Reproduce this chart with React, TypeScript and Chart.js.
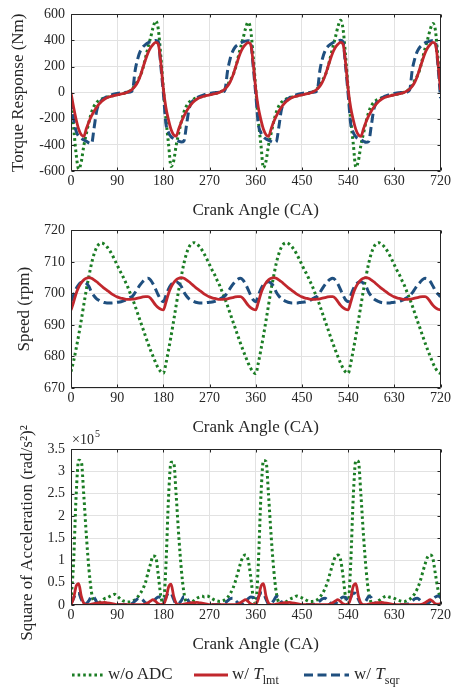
import React, { useEffect, useRef } from 'react';
import { Chart, registerables } from 'chart.js';
Chart.register(...registerables);

const FONT = '"Liberation Serif", "Times New Roman", Times, serif';
const INK = '#262626';
const GRID = '#e2e2e2';
const GREEN = '#1b7d24';
const RED = '#c1272d';
const BLUE = '#1f4f7f';

// crank angle sampling (every 5 CA from 0 to 720)
const angles: number[] = Array.from({ length: 145 }, (_, i) => i * 5);
const xTicks = [0, 90, 180, 270, 360, 450, 540, 630, 720];
const torqueTicks = [-600, -400, -200, 0, 200, 400, 600];
const speedTicks = [670, 680, 690, 700, 710, 720];
const accelTicks = [0, 0.5, 1, 1.5, 2, 2.5, 3, 3.5];

const legendLabels = ['w/o ADC', 'w/ T_lmt', 'w/ T_sqr'];

// Torque response (Nm)
const torqueNoADC = [
  -50, -260, -470, -585, -530, -405, -312, -224, -150, -102, -74, -58, -47, -40, -34, -29, -24, -20, -16, -12, -7, -2, 5, 15, 32, 60, 95, 130, 185, 265, 345, 420, 500, 550, 490, 280, 30,
  -200, -390, -565, -525, -402, -310, -222, -150, -102, -74, -58, -47, -40, -34, -29, -24, -20, -16, -12, -7, -2, 5, 15, 32, 60, 95, 130, 182, 260, 340, 412, 490, 540, 485, 278, 30,
  -210, -395, -575, -525, -400, -310, -222, -150, -102, -74, -58, -47, -40, -34, -29, -24, -20, -16, -12, -7, -2, 5, 15, 32, 60, 95, 130, 186, 266, 346, 422, 503, 555, 492, 282, 32,
  -205, -390, -570, -522, -400, -310, -222, -150, -102, -74, -58, -47, -40, -34, -29, -24, -20, -16, -12, -7, -2, 5, 15, 32, 60, 95, 130, 183, 262, 340, 410, 485, 530, 480, 270, 30,
];
const torqueLmt = [
  0, -110, -205, -280, -322, -334, -275, -222, -178, -142, -112, -86, -65, -50, -39, -31, -26, -21, -17, -13, -8, -3, 4, 14, 28, 50, 82, 128, 190, 250, 305, 345, 370, 385, 372, 230, 30,
  -115, -208, -282, -323, -333, -276, -224, -180, -143, -112, -86, -66, -50, -39, -32, -26, -21, -17, -13, -8, -3, 4, 14, 28, 50, 82, 127, 188, 248, 304, 344, 369, 384, 372, 228, 28,
  -113, -206, -280, -322, -335, -277, -223, -179, -142, -111, -85, -65, -50, -39, -31, -26, -21, -17, -13, -8, -3, 4, 14, 28, 50, 83, 129, 190, 251, 306, 346, 371, 386, 373, 231, 30,
  -114, -207, -281, -323, -334, -276, -222, -178, -142, -112, -86, -65, -50, -39, -31, -26, -21, -17, -13, -8, -3, 4, 14, 28, 50, 82, 128, 189, 249, 305, 345, 370, 385, 372, 230, 20,
];
const torqueSqr = [
  -60, -200, -295, -335, -350, -362, -372, -385, -390, -270, -140, -82, -56, -40, -30, -22, -15, -9, -5, -2, 0, 2, 3, 5, 20, 170, 260, 318, 350, 368, 382, 390, 396, 400, 392, 205, -5,
  -238, -305, -338, -352, -362, -372, -378, -370, -250, -125, -76, -54, -40, -30, -22, -15, -9, -5, -2, 0, 2, 3, 5, 20, 165, 258, 316, 350, 367, 380, 389, 395, 398, 390, 200, -10,
  -240, -306, -340, -354, -364, -374, -382, -376, -262, -130, -78, -55, -40, -30, -22, -15, -9, -5, -2, 0, 2, 3, 5, 20, 172, 262, 320, 352, 369, 383, 391, 397, 401, 391, 202, -8,
  -239, -305, -338, -352, -362, -372, -380, -374, -258, -128, -77, -55, -40, -30, -22, -15, -9, -5, -2, 0, 2, 3, 5, 22, 175, 262, 318, 350, 368, 382, 390, 396, 400, 392, 210, -42,
];

// Speed (rpm)
const speedNoADC = [
  675.2, 678.5, 682.5, 686.8, 691.5, 696.5, 701.3, 705.5, 709.5, 712.5, 714.6, 715.7, 716, 715.6, 714.8, 713.7, 712.3, 710.7, 709, 707.3, 705.8, 704, 702.3, 700.2, 698.2, 696, 693.6, 691.2, 688.9, 686.5, 684.2, 682, 680, 678, 676.3, 675.2, 674.7,
  677.8, 682, 686.5, 691.3, 696.3, 701.2, 705.5, 709.5, 712.6, 714.7, 715.8, 716.1, 715.7, 714.9, 713.8, 712.4, 710.8, 709.1, 707.4, 705.9, 704.1, 702.4, 700.3, 698.3, 696.1, 693.7, 691.3, 689, 686.6, 684.3, 682.1, 680, 678, 676.3, 675.1, 674.6,
  677.9, 682.1, 686.6, 691.4, 696.4, 701.3, 705.6, 709.6, 712.6, 714.7, 715.8, 716.1, 715.7, 714.9, 713.8, 712.4, 710.8, 709.1, 707.4, 705.9, 704.1, 702.4, 700.3, 698.3, 696.1, 693.7, 691.3, 689, 686.6, 684.3, 682.1, 680, 678, 676.3, 675.1, 674.7,
  677.8, 682, 686.5, 691.3, 696.3, 701.2, 705.5, 709.5, 712.6, 714.7, 715.8, 716.1, 715.7, 714.9, 713.8, 712.4, 710.8, 709.1, 707.4, 705.9, 704.1, 702.4, 700.3, 698.3, 696.1, 693.7, 691.3, 689, 686.6, 684.3, 682.1, 680, 678, 676.3, 675.1, 674.6,
];
const speedLmt = [
  694.7, 697.2, 700, 702, 703.4, 704.3, 704.8, 705, 704.8, 704.3, 703.7, 703, 702.3, 701.6, 701, 700.4, 699.8, 699.3, 698.9, 698.6, 698.4, 698.2, 698.1, 698.1, 698.2, 698.3, 698.5, 698.7, 698.9, 699, 699, 698.5, 697.4, 696.3, 695.5, 695, 694.8,
  697.2, 700, 702, 703.4, 704.3, 704.8, 705, 704.8, 704.3, 703.7, 703, 702.3, 701.6, 701, 700.4, 699.8, 699.3, 698.9, 698.6, 698.4, 698.2, 698.1, 698.1, 698.2, 698.3, 698.5, 698.7, 698.9, 699, 699, 698.5, 697.4, 696.3, 695.5, 695, 694.8,
  697.2, 700, 702, 703.4, 704.3, 704.8, 705, 704.8, 704.3, 703.7, 703, 702.3, 701.6, 701, 700.4, 699.8, 699.3, 698.9, 698.6, 698.4, 698.2, 698.1, 698.1, 698.2, 698.3, 698.5, 698.7, 698.9, 699, 699, 698.5, 697.4, 696.3, 695.5, 695, 694.8,
  697.2, 700, 702, 703.4, 704.3, 704.8, 705, 704.8, 704.3, 703.7, 703, 702.3, 701.6, 701, 700.4, 699.8, 699.3, 698.9, 698.6, 698.4, 698.2, 698.1, 698.1, 698.2, 698.3, 698.5, 698.7, 698.9, 699, 699, 698.5, 697.4, 696.3, 695.5, 695, 694.8,
];
const speedSqr = [
  697.5, 699.5, 701.5, 702.8, 703.5, 703.7, 703.2, 702.2, 700.4, 699.2, 698.3, 697.8, 697.4, 697.1, 697, 697, 697, 697.1, 697.2, 697.3, 697.5, 697.8, 698.2, 698.7, 699.2, 700.3, 701.6, 702.8, 703.8, 704.5, 704.8, 704.3, 703, 701.3, 699.5, 698, 697.4,
  699.3, 701.4, 702.8, 703.5, 703.7, 703.2, 702.2, 700.4, 699.2, 698.3, 697.8, 697.4, 697.1, 697, 697, 697, 697.1, 697.2, 697.3, 697.5, 697.8, 698.2, 698.7, 699.2, 700.3, 701.6, 702.8, 703.8, 704.5, 704.8, 704.3, 703, 701.3, 699.5, 698, 697.4,
  699.3, 701.4, 702.8, 703.5, 703.7, 703.2, 702.2, 700.4, 699.2, 698.3, 697.8, 697.4, 697.1, 697, 697, 697, 697.1, 697.2, 697.3, 697.5, 697.8, 698.2, 698.7, 699.2, 700.3, 701.6, 702.8, 703.8, 704.5, 704.8, 704.3, 703, 701.3, 699.5, 698, 697.4,
  699.3, 701.4, 702.8, 703.5, 703.7, 703.2, 702.2, 700.4, 699.2, 698.3, 697.8, 697.4, 697.1, 697, 697, 697, 697.1, 697.2, 697.3, 697.5, 697.8, 698.2, 698.7, 699.2, 700.2, 701.4, 702.6, 703.5, 704.4, 704.8, 704.6, 703.8, 702.4, 700.9, 699.8, 699,
];

// Square of acceleration (x 10^5 (rad/s^2)^2)
const accelNoADC = [
  0.1, 0.95, 2.45, 3.25, 3.22, 2.45, 1.55, 0.8, 0.28, 0.06, 0.02, 0.05, 0.09, 0.14, 0.16, 0.19, 0.22, 0.24, 0.2, 0.15, 0.1, 0.08, 0.07, 0.07, 0.09, 0.12, 0.18, 0.26, 0.36, 0.5, 0.72, 0.92, 1.1, 1.08, 0.68, 0.2, 0.04,
  0.9, 2.4, 3.2, 3.2, 2.45, 1.55, 0.8, 0.28, 0.06, 0.03, 0.06, 0.1, 0.15, 0.18, 0.2, 0.18, 0.2, 0.18, 0.14, 0.11, 0.09, 0.08, 0.09, 0.12, 0.17, 0.25, 0.36, 0.52, 0.72, 0.92, 1.08, 1.12, 1.02, 0.65, 0.18, 0.04,
  0.92, 2.42, 3.24, 3.22, 2.45, 1.55, 0.8, 0.28, 0.06, 0.03, 0.05, 0.08, 0.12, 0.15, 0.17, 0.2, 0.18, 0.16, 0.13, 0.1, 0.08, 0.08, 0.09, 0.12, 0.18, 0.26, 0.37, 0.52, 0.72, 0.92, 1.08, 1.12, 1.03, 0.66, 0.18, 0.04,
  0.92, 2.42, 3.24, 3.22, 2.45, 1.55, 0.8, 0.28, 0.06, 0.03, 0.06, 0.1, 0.14, 0.18, 0.2, 0.18, 0.17, 0.15, 0.12, 0.1, 0.08, 0.08, 0.1, 0.13, 0.18, 0.26, 0.37, 0.52, 0.72, 0.92, 1.08, 1.12, 1.05, 0.7, 0.35, 0.15,
];
const accelLmt = [
  0.01, 0.15, 0.42, 0.48, 0.2, 0.04, 0.01, 0.01, 0.02, 0.03, 0.04, 0.05, 0.05, 0.06, 0.05, 0.04, 0.03, 0.02, 0.01, 0.01, 0.01, 0.01, 0.01, 0.01, 0.01, 0.01, 0.01, 0.01, 0.01, 0.02, 0.05, 0.09, 0.12, 0.08, 0.03, 0.01, 0.02,
  0.14, 0.4, 0.47, 0.2, 0.04, 0.01, 0.01, 0.02, 0.03, 0.04, 0.05, 0.05, 0.06, 0.05, 0.04, 0.03, 0.02, 0.01, 0.01, 0.01, 0.01, 0.01, 0.01, 0.01, 0.01, 0.01, 0.01, 0.01, 0.02, 0.05, 0.09, 0.12, 0.08, 0.03, 0.01, 0.02,
  0.14, 0.41, 0.48, 0.2, 0.04, 0.01, 0.01, 0.02, 0.03, 0.04, 0.05, 0.05, 0.06, 0.05, 0.04, 0.03, 0.02, 0.01, 0.01, 0.01, 0.01, 0.01, 0.01, 0.01, 0.01, 0.01, 0.01, 0.01, 0.02, 0.05, 0.09, 0.12, 0.08, 0.03, 0.01, 0.02,
  0.15, 0.42, 0.48, 0.2, 0.04, 0.01, 0.01, 0.02, 0.03, 0.04, 0.05, 0.05, 0.06, 0.05, 0.04, 0.03, 0.02, 0.01, 0.01, 0.01, 0.01, 0.01, 0.01, 0.01, 0.01, 0.01, 0.01, 0.01, 0.02, 0.05, 0.09, 0.12, 0.08, 0.03, 0.02, 0.03,
];
const accelSqr = [
  0.03, 0.15, 0.26, 0.26, 0.13, 0.02, 0.03, 0.1, 0.19, 0.17, 0.07, 0.02, 0.01, 0.01, 0.01, 0.01, 0.01, 0.01, 0.01, 0.01, 0.01, 0.01, 0.01, 0.02, 0.04, 0.09, 0.14, 0.15, 0.11, 0.05, 0.02, 0.03, 0.08, 0.14, 0.18, 0.17, 0.09,
  0.17, 0.27, 0.26, 0.13, 0.02, 0.03, 0.1, 0.19, 0.17, 0.07, 0.02, 0.01, 0.01, 0.01, 0.01, 0.01, 0.01, 0.01, 0.01, 0.01, 0.01, 0.01, 0.02, 0.04, 0.09, 0.14, 0.15, 0.11, 0.05, 0.02, 0.03, 0.08, 0.14, 0.18, 0.17, 0.09,
  0.17, 0.27, 0.26, 0.13, 0.02, 0.03, 0.1, 0.19, 0.17, 0.07, 0.02, 0.01, 0.01, 0.01, 0.01, 0.01, 0.01, 0.01, 0.01, 0.01, 0.01, 0.01, 0.02, 0.04, 0.09, 0.14, 0.15, 0.11, 0.05, 0.02, 0.03, 0.08, 0.14, 0.18, 0.17, 0.09,
  0.17, 0.27, 0.26, 0.13, 0.02, 0.03, 0.1, 0.19, 0.17, 0.07, 0.02, 0.01, 0.01, 0.01, 0.01, 0.01, 0.01, 0.01, 0.01, 0.01, 0.01, 0.01, 0.02, 0.04, 0.09, 0.14, 0.15, 0.11, 0.05, 0.02, 0.03, 0.08, 0.14, 0.18, 0.2, 0.18,
];

type Panel = {
  top: number;
  height: number;
  areaTop: number;
  areaBottom: number;
  min: number;
  max: number;
  yTicks: number[];
  yTitle: string;
  yTitleX: number;
  yTitleDy: number;
  xTitleBottom: number;
  noADC: number[];
  lmt: number[];
  sqr: number[];
  exponent?: boolean;
};

const decorPlugin = {
  id: 'decor',
  afterDraw(chart: any, _args: any, opts: any) {
    const { ctx, chartArea: a } = chart;
    const L = Math.round(a.left) + 0.5;
    const R = Math.round(a.right) - 0.5;
    const T = Math.round(a.top) + 0.5;
    const B = Math.round(a.bottom) - 0.5;
    ctx.save();
    ctx.strokeStyle = INK;
    ctx.lineWidth = 1;
    ctx.beginPath();
    ctx.rect(L, T, R - L, B - T);
    const xs = chart.scales.x;
    const ys = chart.scales.y;
    const tl = 3;
    xs.ticks.forEach((t: any) => {
      const px = Math.round(xs.getPixelForValue(t.value)) + 0.5;
      ctx.moveTo(px, B); ctx.lineTo(px, B - tl);
      ctx.moveTo(px, T); ctx.lineTo(px, T + tl);
    });
    ys.ticks.forEach((t: any) => {
      const py = Math.round(ys.getPixelForValue(t.value)) + 0.5;
      ctx.moveTo(L, py); ctx.lineTo(L + tl, py);
      ctx.moveTo(R, py); ctx.lineTo(R - tl, py);
    });
    ctx.stroke();
    // y title
    ctx.fillStyle = INK;
    ctx.font = `17px ${FONT}`;
    ctx.textAlign = 'center';
    ctx.textBaseline = 'middle';
    ctx.translate(opts.titleX, (a.top + a.bottom) / 2 + opts.titleDy);
    ctx.rotate(-Math.PI / 2);
    ctx.fillText(opts.title, 0, 0);
    ctx.restore();
    if (opts.exponent) {
      ctx.save();
      ctx.fillStyle = INK;
      ctx.textBaseline = 'alphabetic';
      ctx.textAlign = 'left';
      ctx.font = `14px ${FONT}`;
      ctx.fillText('\u00d710', a.left + 1, a.top - 5);
      const w = ctx.measureText('\u00d710').width;
      ctx.font = `10px ${FONT}`;
      ctx.fillText('5', a.left + 2 + w, a.top - 12);
      ctx.restore();
    }
  },
};

function ds(label: string, values: number[], color: string, kind: 'dot' | 'solid' | 'dash') {
  return {
    label,
    data: angles.map((a, i) => ({ x: a, y: values[i] })),
    borderColor: color,
    backgroundColor: color,
    borderWidth: kind === 'solid' ? 2.8 : 3,
    borderDash: kind === 'dot' ? [2.6, 3] : kind === 'dash' ? [9, 4.5] : [],
    pointRadius: 0,
    cubicInterpolationMode: 'monotone' as const,
    fill: false,
  };
}

function PanelChart({ p }: { p: Panel }) {
  const ref = useRef<HTMLCanvasElement>(null);
  useEffect(() => {
    const chart = new Chart(ref.current as HTMLCanvasElement, {
      type: 'line',
      data: {
        datasets: [
          ds(legendLabels[1], p.lmt, RED, 'solid'),
          ds(legendLabels[2], p.sqr, BLUE, 'dash'),
          ds(legendLabels[0], p.noADC, GREEN, 'dot'),
        ] as any,
      },
      options: {
        responsive: false,
        animation: false,
        devicePixelRatio: 1,
        layout: { padding: { top: p.areaTop, right: 12, left: 0, bottom: 0 } },
        plugins: {
          legend: { display: false },
          tooltip: { enabled: false },
          decor: { title: p.yTitle, titleX: p.yTitleX, titleDy: p.yTitleDy, exponent: !!p.exponent },
        } as any,
        scales: {
          x: {
            type: 'linear',
            min: 0,
            max: 720,
            afterBuildTicks: (s: any) => { s.ticks = xTicks.map((v) => ({ value: v })); },
            afterFit: (s: any) => { s.height = p.height - p.areaBottom; },
            grid: { color: GRID, drawTicks: false, lineWidth: 1 },
            border: { display: false },
            ticks: {
              color: INK,
              font: { family: FONT, size: 14 },
              padding: 2,
              maxRotation: 0,
              autoSkip: false,
              callback: (v: any) => String(v),
            },
            title: {
              display: true,
              text: 'Crank Angle (CA)',
              color: INK,
              font: { family: FONT, size: 17 },
              padding: { top: 0, bottom: p.xTitleBottom },
            },
          },
          y: {
            type: 'linear',
            min: p.min,
            max: p.max,
            afterBuildTicks: (s: any) => { s.ticks = p.yTicks.map((v) => ({ value: v })); },
            afterFit: (s: any) => { s.width = 71; },
            grid: { color: GRID, drawTicks: false, lineWidth: 1 },
            border: { display: false },
            ticks: {
              color: INK,
              font: { family: FONT, size: 14 },
              padding: 6,
              autoSkip: false,
              callback: (v: any) => String(v),
            },
          },
        } as any,
      },
      plugins: [decorPlugin],
    });
    return () => chart.destroy();
  }, []);
  return (
    <canvas
      ref={ref}
      width={453}
      height={p.height}
      style={{ position: 'absolute', left: 0, top: p.top, width: 453, height: p.height }}
    />
  );
}

const panels: Panel[] = [
  {
    top: 0, height: 225, areaTop: 14, areaBottom: 171, min: -600, max: 600, yTicks: torqueTicks,
    yTitle: 'Torque Response (Nm)', yTitleX: 18.5, yTitleDy: 0, xTitleBottom: 3.8,
    noADC: torqueNoADC, lmt: torqueLmt, sqr: torqueSqr,
  },
  {
    top: 216, height: 225, areaTop: 14, areaBottom: 172, min: 670, max: 720, yTicks: speedTicks,
    yTitle: 'Speed (rpm)', yTitleX: 24.5, yTitleDy: 0, xTitleBottom: 2.8,
    noADC: speedNoADC, lmt: speedLmt, sqr: speedSqr,
  },
  {
    top: 416, height: 244, areaTop: 33, areaBottom: 189, min: 0, max: 3.5, yTicks: accelTicks,
    yTitle: 'Square of Acceleration (rad/s\u00b2)\u00b2', yTitleX: 28, yTitleDy: 6, xTitleBottom: 4.8,
    noADC: accelNoADC, lmt: accelLmt, sqr: accelSqr, exponent: true,
  },
];

function Legend() {
  const text: React.CSSProperties = {
    position: 'absolute', top: 664, fontFamily: FONT, fontSize: 17, color: INK, lineHeight: '20px', whiteSpace: 'nowrap',
  };
  const sub: React.CSSProperties = { fontSize: 12, fontStyle: 'normal', position: 'relative', top: 5 };
  return (
    <>
      <svg style={{ position: 'absolute', left: 70, top: 668, width: 36, height: 14 }}>
        <line x1={2} y1={7} x2={33} y2={7} stroke={GREEN} strokeWidth={3} strokeDasharray="2.6 3" />
      </svg>
      <div style={{ ...text, left: 108 }}>w/o ADC</div>
      <svg style={{ position: 'absolute', left: 192, top: 668, width: 38, height: 14 }}>
        <line x1={2} y1={7} x2={36} y2={7} stroke={RED} strokeWidth={2.8} />
      </svg>
      <div style={{ ...text, left: 232 }}>
        w/ <i>T</i><span style={sub}>lmt</span>
      </div>
      <svg style={{ position: 'absolute', left: 302, top: 668, width: 50, height: 14 }}>
        <line x1={2} y1={7} x2={47} y2={7} stroke={BLUE} strokeWidth={3} strokeDasharray="9 4.5" />
      </svg>
      <div style={{ ...text, left: 354 }}>
        w/ <i>T</i><span style={sub}>sqr</span>
      </div>
    </>
  );
}

export default function App() {
  return (
    <div style={{ position: 'fixed', left: 0, top: 0, width: 453, height: 688, background: '#ffffff', overflow: 'hidden' }}>
      {panels.map((p, i) => (
        <PanelChart key={i} p={p} />
      ))}
      <Legend />
    </div>
  );
}
